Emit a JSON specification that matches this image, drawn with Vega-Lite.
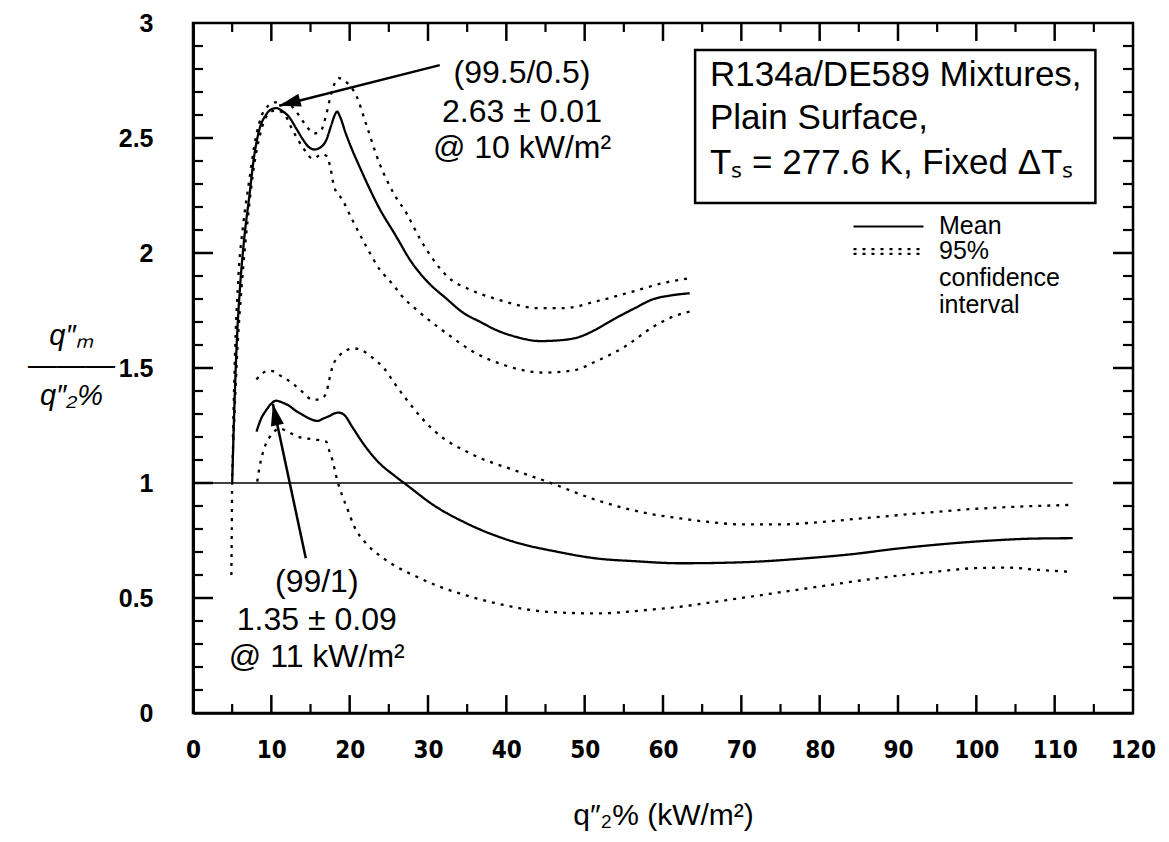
{
"$schema": "https://vega.github.io/schema/vega-lite/v6.json",
"width": 940, "height": 690,
"autosize": {"type": "none"},
"padding": {"left": 193, "top": 23, "right": 36, "bottom": 129},
"background": "white",
"config": {
  "view": {"stroke": "black", "strokeWidth": 2.5},
  "font": "Liberation Sans",
  "axis": {"grid": false, "domainColor": "black", "tickColor": "black", "labelColor": "black", "titleColor": "black", "labelFlush": false, "labelOverlap": false}
},
"datasets": {
  "xt": [
    {"v":5,"k":"minor"},{"v":10,"k":"major"},{"v":15,"k":"minor"},{"v":20,"k":"major"},{"v":25,"k":"minor"},{"v":30,"k":"major"},{"v":35,"k":"minor"},{"v":40,"k":"major"},{"v":45,"k":"minor"},{"v":50,"k":"major"},{"v":55,"k":"minor"},{"v":60,"k":"major"},{"v":65,"k":"minor"},{"v":70,"k":"major"},{"v":75,"k":"minor"},{"v":80,"k":"major"},{"v":85,"k":"minor"},{"v":90,"k":"major"},{"v":95,"k":"minor"},{"v":100,"k":"major"},{"v":105,"k":"minor"},{"v":110,"k":"major"},{"v":115,"k":"minor"}
  ],
  "yt": [
    {"v":0.1,"k":"minor"},{"v":0.2,"k":"minor"},{"v":0.3,"k":"minor"},{"v":0.4,"k":"minor"},{"v":0.5,"k":"major"},{"v":0.6,"k":"minor"},{"v":0.7,"k":"minor"},{"v":0.8,"k":"minor"},{"v":0.9,"k":"minor"},{"v":1.0,"k":"major"},{"v":1.1,"k":"minor"},{"v":1.2,"k":"minor"},{"v":1.3,"k":"minor"},{"v":1.4,"k":"minor"},{"v":1.5,"k":"major"},{"v":1.6,"k":"minor"},{"v":1.7,"k":"minor"},{"v":1.8,"k":"minor"},{"v":1.9,"k":"minor"},{"v":2.0,"k":"major"},{"v":2.1,"k":"minor"},{"v":2.2,"k":"minor"},{"v":2.3,"k":"minor"},{"v":2.4,"k":"minor"},{"v":2.5,"k":"major"},{"v":2.6,"k":"minor"},{"v":2.7,"k":"minor"},{"v":2.8,"k":"minor"},{"v":2.9,"k":"minor"}
  ],
  "ref": [{"q": 0, "q2": 112.3, "r": 1}],
  "curves": [
    {"c":"um","k":"Mean","q":5.0,"r":1.0},{"c":"um","k":"Mean","q":5.3,"r":1.35},{"c":"um","k":"Mean","q":5.6,"r":1.62},{"c":"um","k":"Mean","q":6.0,"r":1.85},{"c":"um","k":"Mean","q":6.5,"r":2.05},{"c":"um","k":"Mean","q":7.2,"r":2.25},{"c":"um","k":"Mean","q":7.8,"r":2.42},{"c":"um","k":"Mean","q":8.5,"r":2.54},{"c":"um","k":"Mean","q":9.3,"r":2.6},{"c":"um","k":"Mean","q":10.0,"r":2.625},{"c":"um","k":"Mean","q":10.6,"r":2.63},{"c":"um","k":"Mean","q":11.5,"r":2.615},{"c":"um","k":"Mean","q":12.3,"r":2.59},{"c":"um","k":"Mean","q":13.2,"r":2.54},{"c":"um","k":"Mean","q":14.0,"r":2.495},{"c":"um","k":"Mean","q":14.8,"r":2.46},{"c":"um","k":"Mean","q":15.5,"r":2.45},{"c":"um","k":"Mean","q":16.3,"r":2.46},{"c":"um","k":"Mean","q":17.0,"r":2.49},{"c":"um","k":"Mean","q":17.6,"r":2.55},{"c":"um","k":"Mean","q":18.1,"r":2.6},{"c":"um","k":"Mean","q":18.4,"r":2.615},{"c":"um","k":"Mean","q":18.8,"r":2.59},{"c":"um","k":"Mean","q":19.5,"r":2.52},{"c":"um","k":"Mean","q":20.3,"r":2.45},{"c":"um","k":"Mean","q":21.2,"r":2.38},{"c":"um","k":"Mean","q":22.4,"r":2.29},{"c":"um","k":"Mean","q":23.7,"r":2.2},{"c":"um","k":"Mean","q":25.8,"r":2.08},{"c":"um","k":"Mean","q":27.9,"r":1.96},{"c":"um","k":"Mean","q":29.8,"r":1.88},{"c":"um","k":"Mean","q":32.4,"r":1.8},{"c":"um","k":"Mean","q":34.5,"r":1.74},{"c":"um","k":"Mean","q":36.7,"r":1.7},{"c":"um","k":"Mean","q":38.7,"r":1.665},{"c":"um","k":"Mean","q":41.3,"r":1.635},{"c":"um","k":"Mean","q":44.3,"r":1.617},{"c":"um","k":"Mean","q":47.3,"r":1.622},{"c":"um","k":"Mean","q":49.4,"r":1.636},{"c":"um","k":"Mean","q":51.3,"r":1.665},{"c":"um","k":"Mean","q":53.6,"r":1.71},{"c":"um","k":"Mean","q":56.4,"r":1.76},{"c":"um","k":"Mean","q":58.8,"r":1.8},{"c":"um","k":"Mean","q":60.9,"r":1.815},{"c":"um","k":"Mean","q":63.4,"r":1.825},
    {"c":"uh","k":"95% confidence interval","q":5.1,"r":1.2},{"c":"uh","k":"95% confidence interval","q":5.4,"r":1.6},{"c":"uh","k":"95% confidence interval","q":5.8,"r":1.9},{"c":"uh","k":"95% confidence interval","q":6.4,"r":2.12},{"c":"uh","k":"95% confidence interval","q":7.2,"r":2.32},{"c":"uh","k":"95% confidence interval","q":8.0,"r":2.5},{"c":"uh","k":"95% confidence interval","q":8.8,"r":2.6},{"c":"uh","k":"95% confidence interval","q":9.6,"r":2.64},{"c":"uh","k":"95% confidence interval","q":10.5,"r":2.655},{"c":"uh","k":"95% confidence interval","q":11.5,"r":2.65},{"c":"uh","k":"95% confidence interval","q":12.5,"r":2.64},{"c":"uh","k":"95% confidence interval","q":13.5,"r":2.6},{"c":"uh","k":"95% confidence interval","q":14.5,"r":2.55},{"c":"uh","k":"95% confidence interval","q":15.5,"r":2.52},{"c":"uh","k":"95% confidence interval","q":16.3,"r":2.53},{"c":"uh","k":"95% confidence interval","q":17.0,"r":2.6},{"c":"uh","k":"95% confidence interval","q":17.7,"r":2.7},{"c":"uh","k":"95% confidence interval","q":18.6,"r":2.76},{"c":"uh","k":"95% confidence interval","q":19.5,"r":2.745},{"c":"uh","k":"95% confidence interval","q":20.9,"r":2.68},{"c":"uh","k":"95% confidence interval","q":22.1,"r":2.56},{"c":"uh","k":"95% confidence interval","q":23.8,"r":2.39},{"c":"uh","k":"95% confidence interval","q":25.6,"r":2.26},{"c":"uh","k":"95% confidence interval","q":27.3,"r":2.17},{"c":"uh","k":"95% confidence interval","q":29.0,"r":2.06},{"c":"uh","k":"95% confidence interval","q":30.7,"r":1.97},{"c":"uh","k":"95% confidence interval","q":32.4,"r":1.9},{"c":"uh","k":"95% confidence interval","q":35.4,"r":1.84},{"c":"uh","k":"95% confidence interval","q":38.7,"r":1.8},{"c":"uh","k":"95% confidence interval","q":41.3,"r":1.775},{"c":"uh","k":"95% confidence interval","q":43.9,"r":1.76},{"c":"uh","k":"95% confidence interval","q":47.3,"r":1.76},{"c":"uh","k":"95% confidence interval","q":51.5,"r":1.79},{"c":"uh","k":"95% confidence interval","q":55.9,"r":1.83},{"c":"uh","k":"95% confidence interval","q":60.1,"r":1.87},{"c":"uh","k":"95% confidence interval","q":63.4,"r":1.89},
    {"c":"ul","k":"95% confidence interval","q":4.9,"r":0.6},{"c":"ul","k":"95% confidence interval","q":4.95,"r":0.8},{"c":"ul","k":"95% confidence interval","q":5.0,"r":1.0},{"c":"ul","k":"95% confidence interval","q":5.3,"r":1.3},{"c":"ul","k":"95% confidence interval","q":5.7,"r":1.6},{"c":"ul","k":"95% confidence interval","q":6.2,"r":1.85},{"c":"ul","k":"95% confidence interval","q":7.0,"r":2.15},{"c":"ul","k":"95% confidence interval","q":7.8,"r":2.38},{"c":"ul","k":"95% confidence interval","q":8.6,"r":2.52},{"c":"ul","k":"95% confidence interval","q":9.5,"r":2.6},{"c":"ul","k":"95% confidence interval","q":10.5,"r":2.62},{"c":"ul","k":"95% confidence interval","q":11.5,"r":2.61},{"c":"ul","k":"95% confidence interval","q":12.7,"r":2.535},{"c":"ul","k":"95% confidence interval","q":14.0,"r":2.46},{"c":"ul","k":"95% confidence interval","q":15.3,"r":2.41},{"c":"ul","k":"95% confidence interval","q":16.5,"r":2.43},{"c":"ul","k":"95% confidence interval","q":17.1,"r":2.42},{"c":"ul","k":"95% confidence interval","q":17.6,"r":2.36},{"c":"ul","k":"95% confidence interval","q":18.0,"r":2.29},{"c":"ul","k":"95% confidence interval","q":19.1,"r":2.23},{"c":"ul","k":"95% confidence interval","q":20.4,"r":2.14},{"c":"ul","k":"95% confidence interval","q":22.1,"r":2.03},{"c":"ul","k":"95% confidence interval","q":23.8,"r":1.93},{"c":"ul","k":"95% confidence interval","q":25.6,"r":1.86},{"c":"ul","k":"95% confidence interval","q":26.5,"r":1.82},{"c":"ul","k":"95% confidence interval","q":29.0,"r":1.74},{"c":"ul","k":"95% confidence interval","q":32.4,"r":1.65},{"c":"ul","k":"95% confidence interval","q":35.8,"r":1.57},{"c":"ul","k":"95% confidence interval","q":39.7,"r":1.513},{"c":"ul","k":"95% confidence interval","q":44.8,"r":1.48},{"c":"ul","k":"95% confidence interval","q":48.6,"r":1.49},{"c":"ul","k":"95% confidence interval","q":51.5,"r":1.53},{"c":"ul","k":"95% confidence interval","q":55.0,"r":1.59},{"c":"ul","k":"95% confidence interval","q":58.8,"r":1.68},{"c":"ul","k":"95% confidence interval","q":61.4,"r":1.725},{"c":"ul","k":"95% confidence interval","q":63.4,"r":1.745},
    {"c":"lm","k":"Mean","q":8.1,"r":1.223},{"c":"lm","k":"Mean","q":8.7,"r":1.28},{"c":"lm","k":"Mean","q":9.35,"r":1.317},{"c":"lm","k":"Mean","q":10.0,"r":1.345},{"c":"lm","k":"Mean","q":10.6,"r":1.358},{"c":"lm","k":"Mean","q":11.4,"r":1.35},{"c":"lm","k":"Mean","q":12.3,"r":1.335},{"c":"lm","k":"Mean","q":13.2,"r":1.312},{"c":"lm","k":"Mean","q":14.0,"r":1.296},{"c":"lm","k":"Mean","q":15.0,"r":1.278},{"c":"lm","k":"Mean","q":15.9,"r":1.27},{"c":"lm","k":"Mean","q":16.6,"r":1.28},{"c":"lm","k":"Mean","q":17.4,"r":1.291},{"c":"lm","k":"Mean","q":18.0,"r":1.302},{"c":"lm","k":"Mean","q":18.65,"r":1.306},{"c":"lm","k":"Mean","q":19.3,"r":1.296},{"c":"lm","k":"Mean","q":20.4,"r":1.24},{"c":"lm","k":"Mean","q":21.7,"r":1.173},{"c":"lm","k":"Mean","q":23.8,"r":1.086},{"c":"lm","k":"Mean","q":25.6,"r":1.035},{"c":"lm","k":"Mean","q":27.3,"r":0.991},{"c":"lm","k":"Mean","q":30.7,"r":0.904},{"c":"lm","k":"Mean","q":34.9,"r":0.825},{"c":"lm","k":"Mean","q":40.9,"r":0.745},{"c":"lm","k":"Mean","q":46.5,"r":0.701},{"c":"lm","k":"Mean","q":51.5,"r":0.672},{"c":"lm","k":"Mean","q":56.4,"r":0.66},{"c":"lm","k":"Mean","q":62.2,"r":0.651},{"c":"lm","k":"Mean","q":66,"r":0.652},{"c":"lm","k":"Mean","q":72,"r":0.658},{"c":"lm","k":"Mean","q":78,"r":0.672},{"c":"lm","k":"Mean","q":84,"r":0.69},{"c":"lm","k":"Mean","q":90,"r":0.715},{"c":"lm","k":"Mean","q":96,"r":0.735},{"c":"lm","k":"Mean","q":102,"r":0.75},{"c":"lm","k":"Mean","q":107,"r":0.758},{"c":"lm","k":"Mean","q":112.3,"r":0.76},
    {"c":"lh","k":"95% confidence interval","q":8.1,"r":1.45},{"c":"lh","k":"95% confidence interval","q":8.8,"r":1.475},{"c":"lh","k":"95% confidence interval","q":9.6,"r":1.488},{"c":"lh","k":"95% confidence interval","q":10.3,"r":1.485},{"c":"lh","k":"95% confidence interval","q":11.0,"r":1.47},{"c":"lh","k":"95% confidence interval","q":12.7,"r":1.433},{"c":"lh","k":"95% confidence interval","q":14.0,"r":1.395},{"c":"lh","k":"95% confidence interval","q":15.3,"r":1.361},{"c":"lh","k":"95% confidence interval","q":16.3,"r":1.365},{"c":"lh","k":"95% confidence interval","q":17.0,"r":1.39},{"c":"lh","k":"95% confidence interval","q":17.4,"r":1.45},{"c":"lh","k":"95% confidence interval","q":17.8,"r":1.505},{"c":"lh","k":"95% confidence interval","q":18.6,"r":1.55},{"c":"lh","k":"95% confidence interval","q":19.6,"r":1.578},{"c":"lh","k":"95% confidence interval","q":20.6,"r":1.585},{"c":"lh","k":"95% confidence interval","q":21.5,"r":1.578},{"c":"lh","k":"95% confidence interval","q":22.9,"r":1.545},{"c":"lh","k":"95% confidence interval","q":24.4,"r":1.498},{"c":"lh","k":"95% confidence interval","q":25.8,"r":1.43},{"c":"lh","k":"95% confidence interval","q":27.3,"r":1.361},{"c":"lh","k":"95% confidence interval","q":30.7,"r":1.23},{"c":"lh","k":"95% confidence interval","q":35.8,"r":1.122},{"c":"lh","k":"95% confidence interval","q":40.9,"r":1.057},{"c":"lh","k":"95% confidence interval","q":45.2,"r":1.006},{"c":"lh","k":"95% confidence interval","q":51.5,"r":0.926},{"c":"lh","k":"95% confidence interval","q":58.0,"r":0.868},{"c":"lh","k":"95% confidence interval","q":62.2,"r":0.846},{"c":"lh","k":"95% confidence interval","q":66,"r":0.83},{"c":"lh","k":"95% confidence interval","q":70,"r":0.82},{"c":"lh","k":"95% confidence interval","q":75,"r":0.82},{"c":"lh","k":"95% confidence interval","q":80,"r":0.83},{"c":"lh","k":"95% confidence interval","q":85,"r":0.845},{"c":"lh","k":"95% confidence interval","q":90,"r":0.86},{"c":"lh","k":"95% confidence interval","q":95,"r":0.875},{"c":"lh","k":"95% confidence interval","q":100,"r":0.888},{"c":"lh","k":"95% confidence interval","q":106,"r":0.898},{"c":"lh","k":"95% confidence interval","q":112.3,"r":0.905},
    {"c":"ll","k":"95% confidence interval","q":8.2,"r":1.006},{"c":"ll","k":"95% confidence interval","q":8.5,"r":1.07},{"c":"ll","k":"95% confidence interval","q":8.9,"r":1.129},{"c":"ll","k":"95% confidence interval","q":9.3,"r":1.17},{"c":"ll","k":"95% confidence interval","q":9.8,"r":1.2},{"c":"ll","k":"95% confidence interval","q":10.4,"r":1.225},{"c":"ll","k":"95% confidence interval","q":11.0,"r":1.238},{"c":"ll","k":"95% confidence interval","q":12.0,"r":1.225},{"c":"ll","k":"95% confidence interval","q":13.2,"r":1.204},{"c":"ll","k":"95% confidence interval","q":15.3,"r":1.19},{"c":"ll","k":"95% confidence interval","q":17.0,"r":1.18},{"c":"ll","k":"95% confidence interval","q":17.4,"r":1.14},{"c":"ll","k":"95% confidence interval","q":17.8,"r":1.1},{"c":"ll","k":"95% confidence interval","q":18.4,"r":1.013},{"c":"ll","k":"95% confidence interval","q":19.0,"r":0.95},{"c":"ll","k":"95% confidence interval","q":19.6,"r":0.897},{"c":"ll","k":"95% confidence interval","q":20.6,"r":0.81},{"c":"ll","k":"95% confidence interval","q":22.1,"r":0.737},{"c":"ll","k":"95% confidence interval","q":24.0,"r":0.68},{"c":"ll","k":"95% confidence interval","q":26.0,"r":0.636},{"c":"ll","k":"95% confidence interval","q":28.7,"r":0.59},{"c":"ll","k":"95% confidence interval","q":31.5,"r":0.549},{"c":"ll","k":"95% confidence interval","q":35.0,"r":0.51},{"c":"ll","k":"95% confidence interval","q":38.7,"r":0.477},{"c":"ll","k":"95% confidence interval","q":45.2,"r":0.44},{"c":"ll","k":"95% confidence interval","q":51.5,"r":0.433},{"c":"ll","k":"95% confidence interval","q":58.0,"r":0.448},{"c":"ll","k":"95% confidence interval","q":62.2,"r":0.462},{"c":"ll","k":"95% confidence interval","q":66,"r":0.48},{"c":"ll","k":"95% confidence interval","q":70,"r":0.5},{"c":"ll","k":"95% confidence interval","q":75,"r":0.525},{"c":"ll","k":"95% confidence interval","q":80,"r":0.55},{"c":"ll","k":"95% confidence interval","q":85,"r":0.575},{"c":"ll","k":"95% confidence interval","q":90,"r":0.597},{"c":"ll","k":"95% confidence interval","q":95,"r":0.615},{"c":"ll","k":"95% confidence interval","q":100,"r":0.63},{"c":"ll","k":"95% confidence interval","q":104,"r":0.632},{"c":"ll","k":"95% confidence interval","q":108,"r":0.622},{"c":"ll","k":"95% confidence interval","q":112.3,"r":0.613}
  ],
  "box": [{"q": 64.1, "q2": 115.2, "r": 2.217, "r2": 2.883}],
  "boxtext": [
    {"q": 66.0, "r": 2.774, "t": "R134a/DE589 Mixtures,"},
    {"q": 66.0, "r": 2.587, "t": "Plain Surface,"},
    {"q": 66.0, "r": 2.391, "t": "Tₛ = 277.6 K, Fixed ΔTₛ"}
  ],
  "annot": [
    {"q": 42.0, "r": 2.783, "t": "(99.5/0.5)"},
    {"q": 42.0, "r": 2.613, "t": "2.63 ± 0.01"},
    {"q": 42.0, "r": 2.457, "t": "@ 10 kW/m²"},
    {"q": 15.8, "r": 0.57, "t": "(99/1)"},
    {"q": 15.8, "r": 0.404, "t": "1.35 ± 0.09"},
    {"q": 15.8, "r": 0.243, "t": "@ 11 kW/m²"}
  ],
  "arrows": [
    {"id": "a", "q": 31.5, "r": 2.817, "q2": 11.0, "r2": 2.64},
    {"id": "b", "q": 14.4, "r": 0.673, "q2": 10.2, "r2": 1.343}
  ]
},
"layer": [
  {
    "data": {"name": "xt"},
    "transform": [{"filter": "datum.k == 'major'"}],
    "mark": {"type": "rule", "color": "black", "strokeWidth": 2.5},
    "encoding": {
      "x": {"field": "v", "type": "quantitative", "scale": {"domain": [0, 120], "nice": false, "zero": false}, "axis": null},
      "y": {"datum": 0, "type": "quantitative", "scale": {"domain": [0, 3], "nice": false, "zero": false}, "axis": null},
      "y2": {"datum": 0.078}
    }
  },
  {
    "data": {"name": "xt"},
    "transform": [{"filter": "datum.k == 'minor'"}],
    "mark": {"type": "rule", "color": "black", "strokeWidth": 2.2},
    "encoding": {
      "x": {"field": "v", "type": "quantitative", "axis": null},
      "y": {"datum": 0, "type": "quantitative", "axis": null},
      "y2": {"datum": 0.039}
    }
  },
  {
    "data": {"name": "xt"},
    "transform": [{"filter": "datum.k == 'major'"}],
    "mark": {"type": "rule", "color": "black", "strokeWidth": 2.5},
    "encoding": {
      "x": {"field": "v", "type": "quantitative", "axis": null},
      "y": {"datum": 3, "type": "quantitative", "axis": null},
      "y2": {"datum": 2.922}
    }
  },
  {
    "data": {"name": "xt"},
    "transform": [{"filter": "datum.k == 'minor'"}],
    "mark": {"type": "rule", "color": "black", "strokeWidth": 2.2},
    "encoding": {
      "x": {"field": "v", "type": "quantitative", "axis": null},
      "y": {"datum": 3, "type": "quantitative", "axis": null},
      "y2": {"datum": 2.961}
    }
  },
  {
    "data": {"name": "yt"},
    "transform": [{"filter": "datum.k == 'major'"}],
    "mark": {"type": "rule", "color": "black", "strokeWidth": 2.5},
    "encoding": {
      "y": {"field": "v", "type": "quantitative", "axis": null},
      "x": {"datum": 0, "type": "quantitative", "axis": null},
      "x2": {"datum": 2.55}
    }
  },
  {
    "data": {"name": "yt"},
    "transform": [{"filter": "datum.k == 'minor'"}],
    "mark": {"type": "rule", "color": "black", "strokeWidth": 2.2},
    "encoding": {
      "y": {"field": "v", "type": "quantitative", "axis": null},
      "x": {"datum": 0, "type": "quantitative", "axis": null},
      "x2": {"datum": 1.28}
    }
  },
  {
    "data": {"name": "yt"},
    "transform": [{"filter": "datum.k == 'major'"}],
    "mark": {"type": "rule", "color": "black", "strokeWidth": 2.5},
    "encoding": {
      "y": {"field": "v", "type": "quantitative", "axis": null},
      "x": {"datum": 120, "type": "quantitative", "axis": null},
      "x2": {"datum": 117.45}
    }
  },
  {
    "data": {"name": "yt"},
    "transform": [{"filter": "datum.k == 'minor'"}],
    "mark": {"type": "rule", "color": "black", "strokeWidth": 2.2},
    "encoding": {
      "y": {"field": "v", "type": "quantitative", "axis": null},
      "x": {"datum": 120, "type": "quantitative", "axis": null},
      "x2": {"datum": 118.72}
    }
  },
  {
    "data": {"name": "ref"},
    "mark": {"type": "rule", "color": "black", "strokeWidth": 1.5},
    "encoding": {
      "x": {"field": "q", "type": "quantitative", "axis": null},
      "x2": {"field": "q2"},
      "y": {"field": "r", "type": "quantitative", "axis": null}
    }
  },
  {
    "data": {"name": "curves"},
    "mark": {"type": "line", "color": "black", "strokeWidth": 2.3, "interpolate": "monotone"},
    "encoding": {
      "x": {"field": "q", "type": "quantitative", "scale": {"domain": [0, 120], "nice": false, "zero": false},
        "axis": {"orient": "bottom", "values": [0,10,20,30,40,50,60,70,80,90,100,110,120], "format": "d", "ticks": false, "domain": true, "domainWidth": 2.5,
          "labelFont": "DejaVu Sans Condensed, Liberation Sans Narrow, Liberation Sans, sans-serif", "labelFontWeight": "bold", "labelFontSize": 24, "labelPadding": 37, "labelBaseline": "middle",
          "title": "q″₂% (kW/m²)", "titleFont": "Liberation Sans", "titleFontSize": 30, "titleFontWeight": "normal", "titleY": 102, "titleBaseline": "middle"}},
      "y": {"field": "r", "type": "quantitative", "scale": {"domain": [0, 3], "nice": false, "zero": false},
        "axis": {"orient": "left", "values": [0,0.5,1,1.5,2,2.5,3], "format": "~g", "ticks": false, "domain": true, "domainWidth": 3,
          "labelFont": "Liberation Sans", "labelFontWeight": "bold", "labelFontSize": 25, "labelPadding": 40, "labelBaseline": "middle", "labelAlign": "right",
          "title": ["q″ₘ", "———", "q″₂%"], "titleAngle": 0, "titleFontSize": 29, "titleFontStyle": "italic", "titleFontWeight": "normal", "titleAlign": "center", "titleBaseline": "middle", "titleX": -122, "titleY": 312, "titleLineHeight": 30}},
      "detail": {"field": "c"},
      "strokeDash": {"field": "k", "type": "nominal",
        "scale": {"domain": ["Mean", "95% confidence interval"], "range": [[1, 0], [3, 6]]},
        "legend": {"orient": "none", "legendX": 648, "legendY": 191, "title": null, "padding": 0, "rowPadding": -12,
          "symbolType": "M0,0L10,0", "symbolSize": 196, "symbolStrokeWidth": 2.2, "symbolStrokeColor": "black",
          "labelFont": "Liberation Sans", "labelFontSize": 25, "labelColor": "black", "labelOffset": 73, "labelBaseline": "top",
          "labelExpr": "datum.label == '95% confidence interval' ? ['95%', 'confidence', 'interval'] : datum.label",
          "encoding": {
            "symbols": {"shape": {"condition": {"test": "datum.value == 'Mean'", "value": "M0,0L10,0"}, "value": "M0,-0.35L10,-0.35M0,0.35L10,0.35"}},
            "labels": {"dy": {"value": -13}, "lineHeight": {"value": 27}}
          }}}
    }
  },
  {
    "data": {"name": "box"},
    "mark": {"type": "rect", "fill": "white", "stroke": "black", "strokeWidth": 2.5},
    "encoding": {
      "x": {"field": "q", "type": "quantitative", "axis": null},
      "x2": {"field": "q2"},
      "y": {"field": "r", "type": "quantitative", "axis": null},
      "y2": {"field": "r2"}
    }
  },
  {
    "data": {"name": "boxtext"},
    "mark": {"type": "text", "align": "left", "baseline": "middle", "font": "Liberation Sans", "fontSize": 35, "color": "black"},
    "encoding": {
      "x": {"field": "q", "type": "quantitative", "axis": null},
      "y": {"field": "r", "type": "quantitative", "axis": null},
      "text": {"field": "t"}
    }
  },
  {
    "data": {"name": "annot"},
    "mark": {"type": "text", "align": "center", "baseline": "middle", "font": "Liberation Sans", "fontSize": 32, "color": "black"},
    "encoding": {
      "x": {"field": "q", "type": "quantitative", "axis": null},
      "y": {"field": "r", "type": "quantitative", "axis": null},
      "text": {"field": "t"}
    }
  },
  {
    "data": {"name": "arrows"},
    "mark": {"type": "rule", "color": "black", "strokeWidth": 2.5},
    "encoding": {
      "x": {"field": "q", "type": "quantitative", "axis": null},
      "y": {"field": "r", "type": "quantitative", "axis": null},
      "x2": {"field": "q2"},
      "y2": {"field": "r2"}
    }
  },
  {
    "data": {"name": "arrows"},
    "transform": [{"filter": "datum.id == 'a'"}],
    "mark": {"type": "point", "shape": "M0,0L-0.55,1.8L0.55,1.8Z", "size": 576, "filled": true, "color": "black", "opacity": 1, "angle": 255},
    "encoding": {
      "x": {"field": "q2", "type": "quantitative", "axis": null},
      "y": {"field": "r2", "type": "quantitative", "axis": null}
    }
  },
  {
    "data": {"name": "arrows"},
    "transform": [{"filter": "datum.id == 'b'"}],
    "mark": {"type": "point", "shape": "M0,0L-0.55,1.8L0.55,1.8Z", "size": 576, "filled": true, "color": "black", "opacity": 1, "angle": 348},
    "encoding": {
      "x": {"field": "q2", "type": "quantitative", "axis": null},
      "y": {"field": "r2", "type": "quantitative", "axis": null}
    }
  }
],
"resolve": {"axis": {"x": "independent", "y": "independent"}}
}
